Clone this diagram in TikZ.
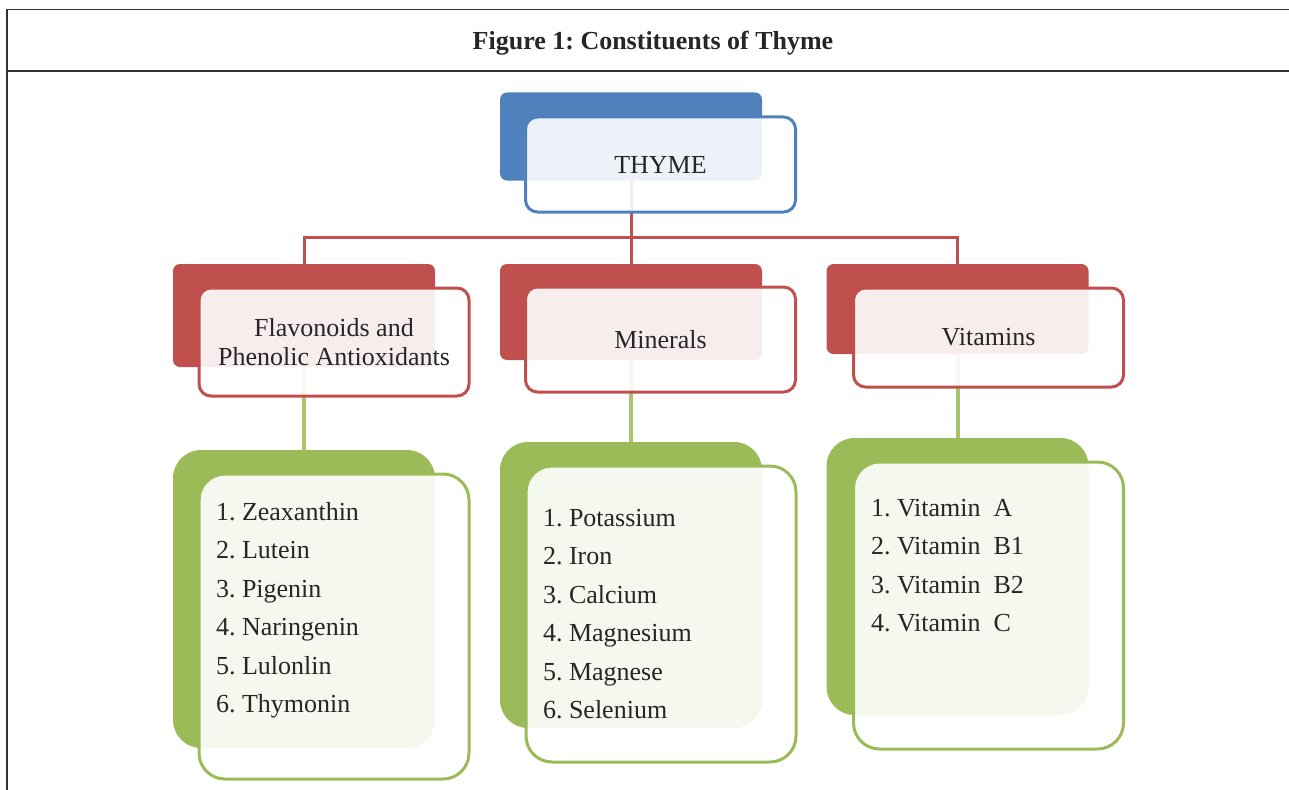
\documentclass[tikz,border=0pt]{standalone}
\usepackage{fontspec}
\setmainfont{Liberation Serif}
\frenchspacing
\definecolor{c4F81BD}{RGB}{79,129,189}
\definecolor{cC0504D}{RGB}{192,80,77}
\definecolor{c9BBB59}{RGB}{155,187,89}
\definecolor{cA9C46F}{RGB}{169,196,111}
\definecolor{c333333}{RGB}{51,51,51}
\definecolor{c262626}{RGB}{38,38,38}

\begin{document}
\begin{tikzpicture}[y=1pt,x=1pt,yscale=-1, inner sep=0pt, outer sep=0pt,
  backbox/.style={rounded corners=7pt, minimum width=262pt},
  frontbox/.style={draw, line width=3pt, rounded corners=12pt, fill=white,
    fill opacity=0.9, text opacity=1, minimum width=270pt, align=center,
    text=c262626, font=\fontsize{26}{29}\selectfont},
  listback/.style={backbox, fill=c9BBB59, rounded corners=28pt},
  listfront/.style={frontbox, draw=c9BBB59, rounded corners=26pt},
  listtext/.style={anchor=north west, align=left, text=c262626,
    font=\fontsize{26}{38.5}\selectfont},
  redline/.style={draw=cC0504D, line width=3pt},
  greenline/.style={draw=cA9C46F, line width=4pt}]
  \useasboundingbox (0,0) rectangle (1289,789);
  \path[draw=c333333,line width=1.5pt] (7,800) -- (7,9.5) -- (1300,9.5);
  \path[draw=c333333,line width=1.5pt] (7,71) -- (1300,71);
  \node[font=\fontsize{26}{30}\selectfont\bfseries, text=c262626] (title) at (653,43)
    {Figure 1: Constituents of Thyme};

  \node[backbox, fill=c4F81BD, minimum height=88pt] (thymeback) at (631,136.5) {};
  \node[backbox, fill=cC0504D, minimum height=103pt] (flavback) at (304,315.5) {};
  \node[backbox, fill=cC0504D, minimum height=96pt] (minback) at (631,312) {};
  \node[backbox, fill=cC0504D, minimum height=90pt] (vitback) at (957.5,309) {};
  \node[listback, minimum height=298pt] (flavlistback) at (304,599) {};
  \node[listback, minimum height=286pt] (minlistback) at (631,585) {};
  \node[listback, minimum height=277pt] (vitlistback) at (957.5,576.5) {};

  \coordinate (bar) at (631,237);
  \path[redline] (thymeback.south) -- (minback.north);
  \path[redline] (flavback.north) |- (bar) -| (vitback.north);
  \path[greenline] (flavback.south) -- (flavlistback.north);
  \path[greenline] (minback.south) -- (minlistback.north);
  \path[greenline] (vitback.south) -- (vitlistback.north);

  \node[frontbox, draw=c4F81BD, minimum height=95pt] (thyme) at (660.5,164.5) {THYME};
  \node[frontbox, draw=cC0504D, minimum height=108pt] (flav) at (334,342)
    {Flavonoids and\\Phenolic Antioxidants};
  \node[frontbox, draw=cC0504D, minimum height=105pt] (min) at (660.5,339.5) {Minerals};
  \node[frontbox, draw=cC0504D, minimum height=99pt] (vit) at (988.5,337.5) {Vitamins};
  \node[listfront, minimum height=305pt] (flavlist) at (334,626.5) {};
  \node[listfront, minimum height=296pt] (minlist) at (661,614) {};
  \node[listfront, minimum height=287pt] (vitlist) at (988.5,605.5) {};

  \node[listtext] (flavitems) at (216,502) {1. Zeaxanthin\\2. Lutein\\3. Pigenin\\4. Naringenin\\5. Lulonlin\\6. Thymonin};
  \node[listtext] (minitems) at (543,509) {1. Potassium\\2. Iron\\3. Calcium\\4. Magnesium\\5. Magnese\\6. Selenium};
  \node[listtext] (vititems) at (871,499) {1. Vitamin~~A\\2. Vitamin~~B1\\3. Vitamin~~B2\\4. Vitamin~~C};
\end{tikzpicture}
\end{document}
